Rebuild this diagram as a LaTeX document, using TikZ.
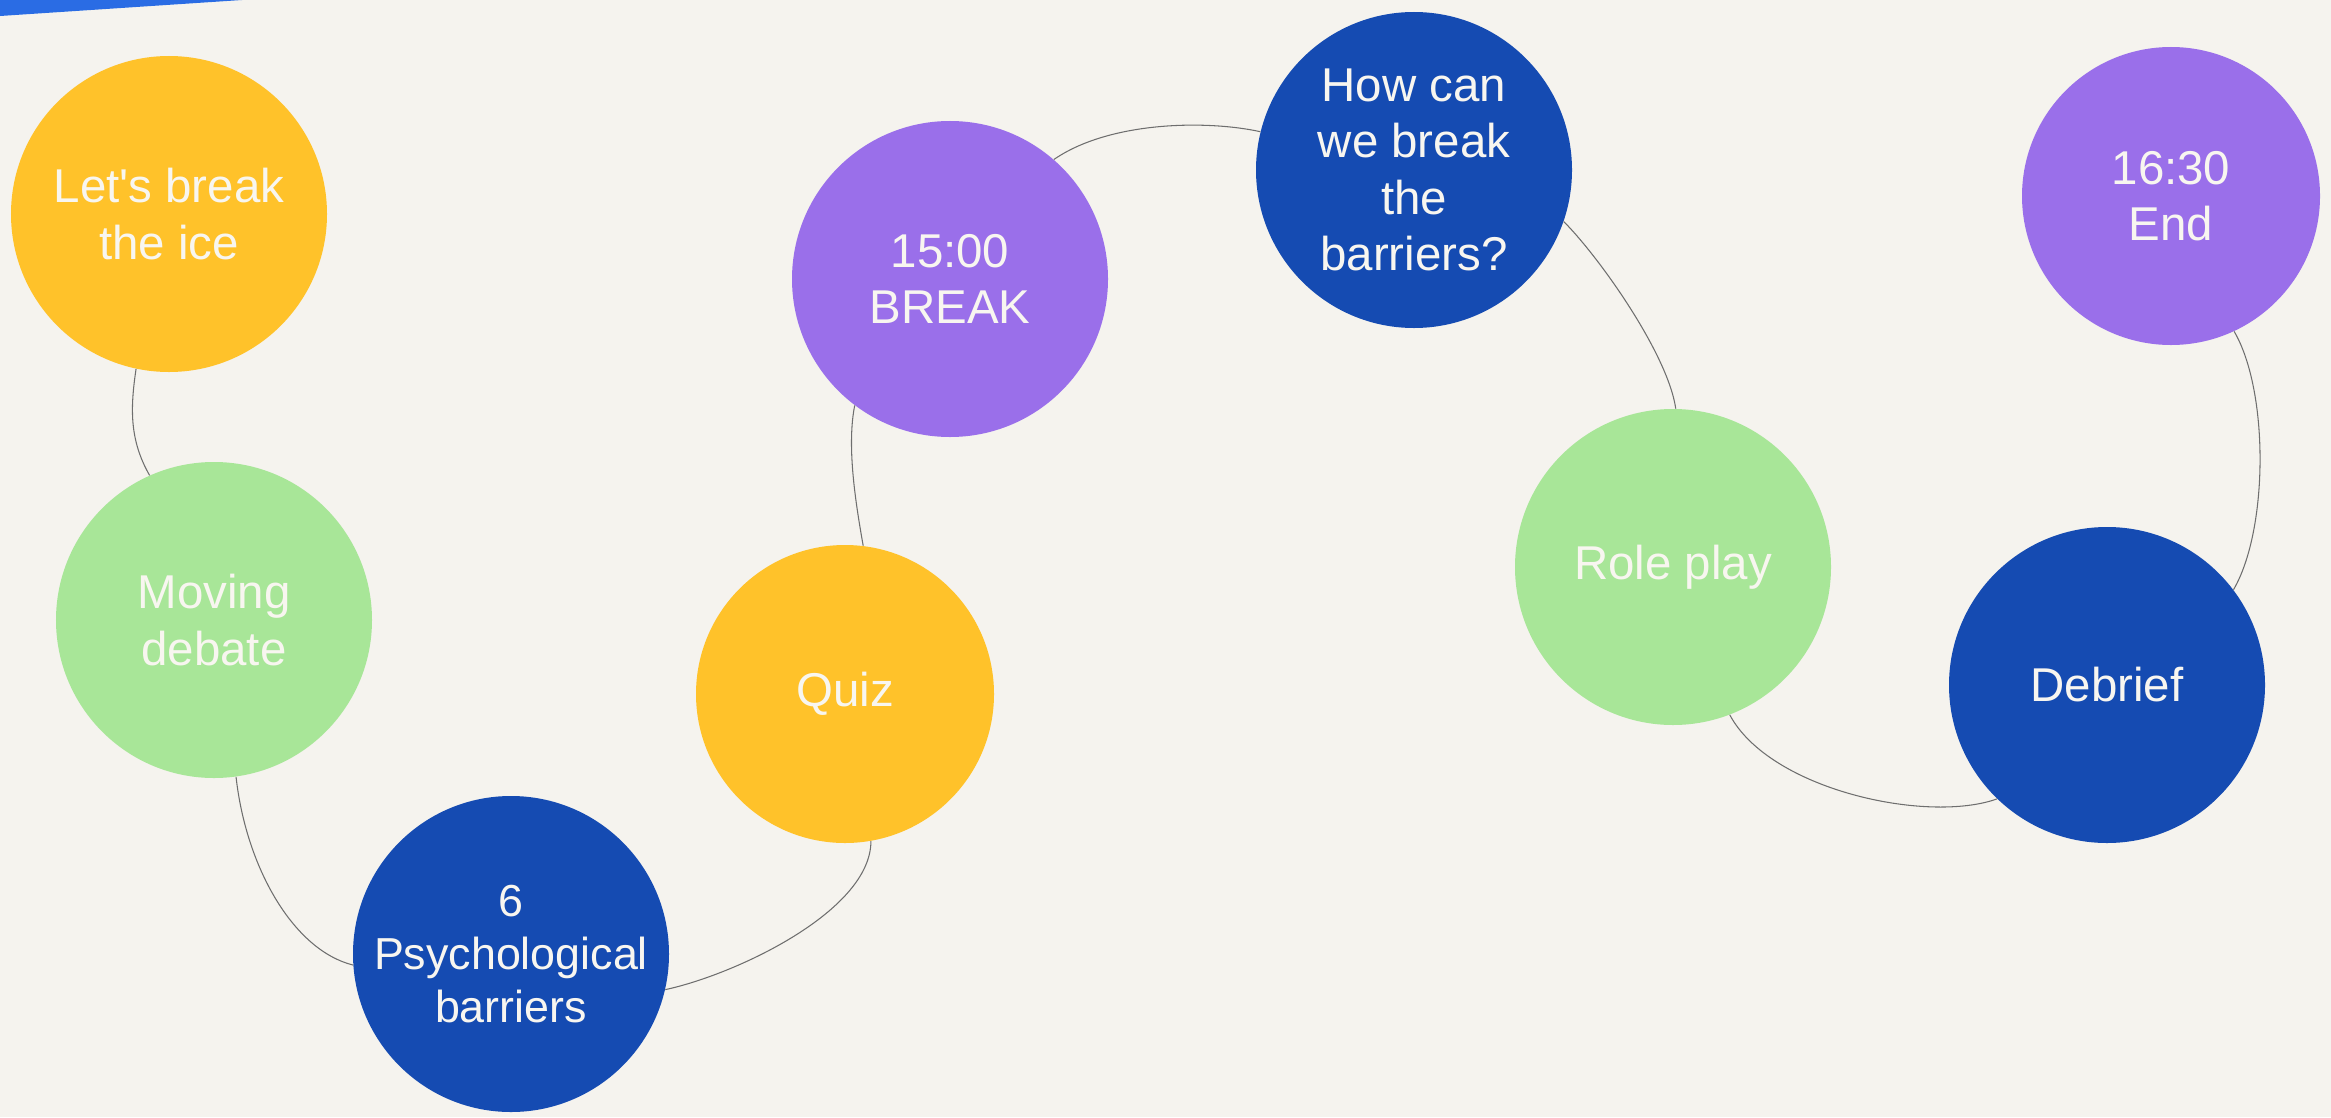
\documentclass[tikz,border=0pt]{standalone}
\usepackage{fontspec}
\setmainfont{Liberation Sans}[Ligatures=TeXOff]
\usepackage{xcolor}
\definecolor{paper}{RGB}{245,243,238}
\definecolor{topblue}{RGB}{42,108,228}
\definecolor{sun}{RGB}{255,194,42}
\definecolor{mint}{RGB}{168,230,152}
\definecolor{navy}{RGB}{21,75,178}
\definecolor{lilac}{RGB}{154,111,234}
\definecolor{balltext}{RGB}{248,246,240}
\definecolor{linkgray}{RGB}{110,110,110}

\begin{document}
\begin{tikzpicture}[x=0.2mm,y=-0.2mm]
      \tikzstyle{every node}=[circle,inner sep=-30pt,minimum size=63.2mm,text=balltext,align=center,font=\fontsize{27}{32}\selectfont]
      \tikzstyle{small}=[minimum size=59.6mm]
      \tikzstyle{link}=[draw=linkgray,line width=0.6pt]

      \fill[paper] (0,0) rectangle (2331,1117);
      \useasboundingbox (0,0) rectangle (2331,1117);
      \fill[topblue] (0,0) -- (242,0) -- (0,16) -- cycle;

      \node[fill=sun]         (n1) at (169,214)  {Let's break\\the ice};
      \node[fill=mint]        (n2) at (214,620)  {Moving\\debate};
      \node[fill=navy,font=\fontsize{25.5}{30}\selectfont] (n3) at (511,954) {6\\Psychological\\barriers};
      \node[fill=sun,small]   (n4) at (845,694)  {Quiz};
      \node[fill=lilac]       (n5) at (950,279)  {15:00\\BREAK};
      \node[fill=navy]        (n6) at (1414,170) {How can\\we break\\the\\barriers?};
      \node[fill=mint]        (n7) at (1673,567) {Role play};
      \node[fill=navy]        (n8) at (2107,685) {Debrief};
      \node[fill=lilac,small] (n9) at (2171,196) {16:30\\End};

      \draw[link] (n1.-102) .. controls +(-6,40)  and +(-20,-35) .. (n2.114);
      \draw[link] (n2.-82)  .. controls +(10,90)  and +(-60,-15) .. (n3.184);
      \draw[link] (n3.-13)  .. controls +(70,-15) and +(0,70)    .. (n4.-80);
      \draw[link] (n4.83)   .. controls +(-8,-45) and +(-8,40)   .. (n5.-127);
      \draw[link] (n5.49)   .. controls +(55,-38) and +(-55,-12) .. (n6.166);
      \draw[link] (n6.-19)  .. controls +(35,35)  and +(-8,-55)  .. (n7.89);
      \draw[link] (n7.-69)  .. controls +(40,75)  and +(-70,25)  .. (n8.-134);
      \draw[link] (n8.37)   .. controls +(35,-60) and +(35,60)   .. (n9.-65);
\end{tikzpicture}
\end{document}
